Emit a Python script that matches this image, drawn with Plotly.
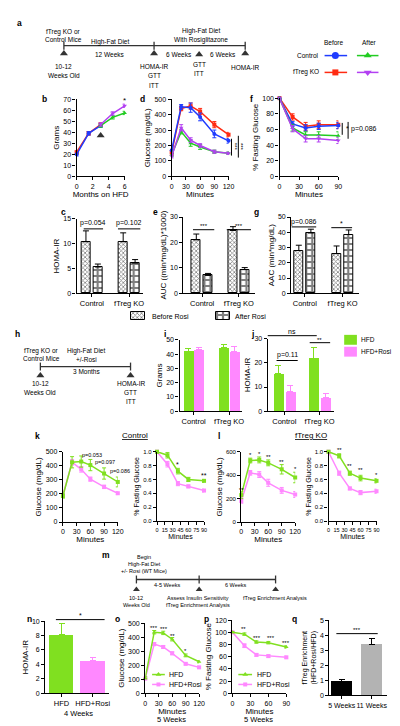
import plotly.graph_objects as go

W, H = 400, 726
FONT = "Liberation Sans, Arial, sans-serif"

BLUE = "#1f3cff"
RED = "#ff2b12"
GREEN = "#22cc22"
PURPLE = "#b340f2"
LIME = "#80e020"
PINK = "#ff88ff"
DARK = "#333333"

# ---------------- data ----------------
# b: body weight (grams) vs months on HFD
b_months_before = [0, 1.5, 3]
b_months_after = [3, 4.5, 6]
b_ctrl_before = [20, 39, 46]
b_ko_before = [22, 39, 47]
b_ctrl_after = [46, 53.5, 57.5]
b_ko_after = [47, 57, 64]
b_err = [1.5, 1.5, 1.5]

# d: GTT glucose (mg/dL)
gtt_minutes = [0, 20, 40, 60, 90, 120]
d_ctrl_before = [170, 450, 445, 385, 275, 230]
d_ctrl_before_err = [20, 15, 30, 25, 25, 15]
d_ko_before = [155, 440, 455, 420, 335, 270]
d_ko_before_err = [15, 15, 20, 20, 20, 15]
d_ctrl_after = [140, 290, 215, 190, 160, 150]
d_ctrl_after_err = [10, 15, 20, 15, 10, 8]
d_ko_after = [130, 315, 235, 200, 160, 150]
d_ko_after_err = [10, 20, 15, 12, 10, 8]

# f: ITT % fasting glucose
itt_minutes = [0, 20, 40, 60, 90]
f_ctrl_before = [100, 67, 62, 64, 65]
f_ctrl_before_err = [2, 3, 4, 4, 4]
f_ko_before = [100, 76, 64, 66, 66]
f_ko_before_err = [2, 4, 5, 5, 5]
f_ctrl_after = [100, 62, 53, 53, 52]
f_ctrl_after_err = [2, 4, 4, 4, 5]
f_ko_after = [100, 61, 48, 48, 46]
f_ko_after_err = [2, 4, 4, 4, 4]

groups = ["Control", "fTreg KO"]
# c: HOMA-IR before / after rosi
c_before = [10.4, 10.4]
c_before_err = [2.2, 1.8]
c_after = [5.3, 6.1]
c_after_err = [0.6, 0.7]
# e: AUC
e_before = [21, 24.7]
e_before_err = [2.3, 1.5]
e_after = [7, 9.3]
e_after_err = [0.8, 0.8]
# g: AAC
g_before = [28, 26]
g_before_err = [3.5, 5]
g_after = [39.5, 38.5]
g_after_err = [2.5, 3]

# i: grams HFD vs HFD+Rosi
i_hfd = [42, 44.5]
i_hfd_err = [2, 2.5]
i_rosi = [43, 41.5]
i_rosi_err = [1.5, 3.5]
# j: HOMA-IR
j_hfd = [15.5, 22]
j_hfd_err = [3.5, 4.5]
j_rosi = [8, 5.5]
j_rosi_err = [2.5, 1.8]

# k: control GTT / ITT
k_gtt_hfd = [185, 425, 430, 405, 345, 285]
k_gtt_hfd_err = [15, 40, 40, 40, 40, 35]
k_gtt_rosi = [190, 425, 375, 305, 250, 205]
k_gtt_rosi_err = [10, 20, 20, 15, 12, 10]
k_itt_hfd = [1.0, 0.95, 0.72, 0.60, 0.58]
k_itt_hfd_err = [0.02, 0.04, 0.04, 0.03, 0.02]
k_itt_rosi = [1.0, 0.82, 0.54, 0.50, 0.44]
k_itt_rosi_err = [0.02, 0.04, 0.03, 0.02, 0.02]

# l: fTreg KO GTT / ITT
l_gtt_hfd = [230, 525, 530, 505, 450, 380]
l_gtt_hfd_err = [30, 20, 25, 25, 40, 45]
l_gtt_rosi = [180, 420, 405, 335, 270, 235]
l_gtt_rosi_err = [20, 20, 25, 30, 25, 25]
l_itt_hfd = [1.0, 0.94, 0.69, 0.62, 0.58]
l_itt_hfd_err = [0.01, 0.03, 0.03, 0.04, 0.03]
l_itt_rosi = [1.0, 0.69, 0.47, 0.41, 0.43]
l_itt_rosi_err = [0.01, 0.03, 0.02, 0.03, 0.03]

# n: HOMA-IR 4 weeks
n_labels = ["HFD", "HFD+Rosi"]
n_values = [8.1, 4.5]
n_err = [1.5, 0.5]

# o: GTT 5 weeks
o_hfd = [110, 435, 430, 385, 270, 225]
o_hfd_err = [8, 12, 12, 12, 10, 8]
o_rosi = [105, 350, 330, 285, 210, 185]
o_rosi_err = [8, 10, 10, 10, 8, 8]

# p: ITT 5 weeks
p_hfd = [100, 97, 84, 83, 76]
p_hfd_err = [1, 2, 2, 2, 2]
p_rosi = [100, 78, 63, 61, 59]
p_rosi_err = [1, 3, 2, 2, 2]

# q: fTreg enrichment
q_labels = ["5 Weeks", "11 Weeks"]
q_values = [0.95, 3.4]
q_err = [0.1, 0.4]

# ---------------- helpers ----------------
fig = go.Figure()
layout = dict(width=W, height=H, margin=dict(l=0, r=0, t=0, b=0),
              paper_bgcolor="white", plot_bgcolor="rgba(0,0,0,0)", showlegend=False,
              font=dict(family=FONT, color="black", size=7))
annotations = []
shapes = []
P = {}
counter = [0]


def new_axes(name, box, xr, yr, xtitle=None, ytitle=None, xkw=None, ykw=None, tsize=8):
    counter[0] += 1
    i = counter[0]
    sfx = "" if i == 1 else str(i)
    x0, x1, y0, y1 = box

    def base():
        return dict(showline=True, linecolor="black", linewidth=1, ticks="outside",
                    ticklen=3, tickwidth=1, tickcolor="black", showgrid=False,
                    zeroline=False, fixedrange=True, tickangle=0,
                    tickfont=dict(size=7, color="black", family=FONT))
    xa = base()
    xa.update(domain=[x0 / W, x1 / W], range=xr, anchor="y" + sfx)
    ya = base()
    ya.update(domain=[1 - y1 / H, 1 - y0 / H], range=yr, anchor="x" + sfx, linewidth=1.3)
    if xtitle:
        xa["title"] = dict(text=xtitle, font=dict(size=tsize, color="black", family=FONT), standoff=1)
    if ytitle:
        ya["title"] = dict(text=ytitle, font=dict(size=tsize, color="black", family=FONT), standoff=2)
    if xkw:
        xa.update(xkw)
    if ykw:
        ya.update(ykw)
    layout["xaxis" + sfx] = xa
    layout["yaxis" + sfx] = ya
    P[name] = dict(x="x" + sfx, y="y" + sfx, box=box, xr=xr, yr=yr)


def d2p(name, x, y):
    p = P[name]
    x0, x1, y0, y1 = p["box"]
    xr, yr = p["xr"], p["yr"]
    px = x0 + (x - xr[0]) / (xr[1] - xr[0]) * (x1 - x0)
    py = y1 - (y - yr[0]) / (yr[1] - yr[0]) * (y1 - y0)
    return px, py


def T(px, py, text, size=7, xanchor="center", angle=0, color="black"):
    annotations.append(dict(x=px / W, y=1 - py / H, xref="paper", yref="paper", text=text,
                            showarrow=False, xanchor=xanchor, yanchor="middle",
                            textangle=angle, font=dict(size=size, color=color, family=FONT)))


def L(px0, py0, px1, py1, color="black", width=1):
    shapes.append(dict(type="line", xref="paper", yref="paper", x0=px0 / W, y0=1 - py0 / H,
                       x1=px1 / W, y1=1 - py1 / H, line=dict(color=color, width=width)))


def DT(name, x, y, text, size=7, xanchor="center"):
    px, py = d2p(name, x, y)
    T(px, py, text, size=size, xanchor=xanchor)


def bracket(name, xa, xb, y, text, size=7, dy=5):
    pa = d2p(name, xa, y)
    pb = d2p(name, xb, y)
    L(pa[0], pa[1], pb[0], pb[1], width=1)
    T((pa[0] + pb[0]) / 2, pa[1] - dy, text, size=size)


def line(name, xs, ys, err, color, symbol, msize=5, lw=1.5):
    p = P[name]
    fig.add_trace(go.Scatter(x=xs, y=ys, xaxis=p["x"], yaxis=p["y"], mode="lines+markers",
                             line=dict(color=color, width=lw),
                             marker=dict(symbol=symbol, size=msize, color=color),
                             error_y=dict(type="data", array=err, color=color, thickness=1, width=2),
                             cliponaxis=False, showlegend=False))


def bar(name, x, v, e, width, color, ecolor="black", pattern=None, outline=0):
    p = P[name]
    mk = dict(color=color, line=dict(color="black", width=outline))
    if pattern:
        mk["pattern"] = pattern
    fig.add_trace(go.Bar(x=[x], y=[v], width=width, xaxis=p["x"], yaxis=p["y"], marker=mk,
                         error_y=dict(type="data", array=[e], arrayminus=[0], symmetric=False,
                                      color=ecolor, thickness=1, width=3),
                         showlegend=False))


PAT_BEFORE = dict(shape="x", size=3, solidity=0.45, fgcolor="black", bgcolor="white")
PAT_AFTER = dict(shape="+", size=6, solidity=0.6, fgcolor="black", bgcolor="white")

# ---------------- panel b ----------------
new_axes("b", (68, 117, 88, 166), [0, 6], [0, 70], xtitle="Months on HFD", ytitle="Grams",
         xkw=dict(tickvals=[0, 2, 4, 6]), ykw=dict(dtick=10))
line("b", b_months_before, b_ko_before, b_err, RED, "square", 4)
line("b", b_months_before, b_ctrl_before, b_err, BLUE, "circle", 4)
line("b", b_months_after, b_ctrl_after, b_err, GREEN, "triangle-up", 4)
line("b", b_months_after, b_ko_after, b_err, PURPLE, "triangle-down", 4)
DT("b", 6, 69, "*", 8)

# ---------------- panel d ----------------
new_axes("d", (165, 223, 88, 166), [0, 120], [0, 500], xtitle="Minutes", ytitle="Glucose (mg/dL)",
         xkw=dict(dtick=30), ykw=dict(dtick=100))
line("d", gtt_minutes, d_ko_before, d_ko_before_err, RED, "square", 4)
line("d", gtt_minutes, d_ctrl_before, d_ctrl_before_err, BLUE, "circle", 4)
line("d", gtt_minutes, d_ctrl_after, d_ctrl_after_err, GREEN, "triangle-up", 4)
line("d", gtt_minutes, d_ko_after, d_ko_after_err, PURPLE, "triangle-down", 4)
L(226, 128, 226, 145)
L(233, 125, 233, 147)
T(229.5, 136, "***", 6, angle=90)
T(236.5, 136, "***", 6, angle=90)

# ---------------- panel f ----------------
new_axes("f", (275, 335, 87, 166), [0, 90], [0, 100], xtitle="Minutes", ytitle="% Fasting Glucose",
         xkw=dict(dtick=30), ykw=dict(dtick=20))
line("f", itt_minutes, f_ko_before, f_ko_before_err, RED, "square", 4)
line("f", itt_minutes, f_ctrl_before, f_ctrl_before_err, BLUE, "circle", 4)
line("f", itt_minutes, f_ctrl_after, f_ctrl_after_err, GREEN, "triangle-up", 4)
line("f", itt_minutes, f_ko_after, f_ko_after_err, PURPLE, "triangle-down", 4)
L(339, 112, 339, 124)
T(341, 118, "*", 7, xanchor="left")
L(345, 111, 345, 128)
T(346, 118, "p=0.086", 7, xanchor="left")

# ---------------- panels c, e, g ----------------
OFF, BW = 0.16, 0.25
tick_groups = dict(tickvals=[1, 2], ticktext=groups, tickfont=dict(size=7.5, color="black", family=FONT))
for name, box, xr, yr, dt, ytitle, bef, befe, aft, afte in [
    ("c", (68, 136, 209, 284), [0.59, 2.38], [0, 15], 5, "HOMA-IR", c_before, c_before_err, c_after, c_after_err),
    ("e", (177, 250, 207, 284), [0.49, 2.44], [0, 30], 10, "AUC ((min*mg/dL)*1000)", e_before, e_before_err, e_after, e_after_err),
    ("g", (287, 356, 207, 284), [0.64, 2.43], [0, 50], 10, "AAC (min*mg/dL)", g_before, g_before_err, g_after, g_after_err),
]:
    new_axes(name, box, xr, yr, ytitle=ytitle, xkw=tick_groups, ykw=dict(dtick=dt))
    for gi in range(2):
        bar(name, gi + 1 - OFF, bef[gi], befe[gi], BW, "white", pattern=PAT_BEFORE, outline=1)
        bar(name, gi + 1 + OFF, aft[gi], afte[gi], BW, "white", pattern=PAT_AFTER, outline=1)

bracket("c", 1 - 0.22, 1 + 0.3, 13, "p=0.054", 7, 6)
bracket("c", 2 - 0.3, 2 + 0.3, 13, "p=0.102", 7, 6)
bracket("e", 1 - 0.25, 1 + 0.33, 25, "***", 6, 4)
bracket("e", 2 - 0.33, 2 + 0.33, 25, "***", 6, 4)
bracket("g", 1 - 0.35, 1 + 0.3, 43.5, "p=0.086", 7, 5)
bracket("g", 2 - 0.3, 2 + 0.25, 43, "*", 7, 4)

# ---------------- panels i, j ----------------
BW2 = 0.28
new_axes("i", (173, 237, 331, 403), [0.6, 2.375], [0, 50], ytitle="Grams", xkw=tick_groups, ykw=dict(dtick=10))
for gi in range(2):
    bar("i", gi + 1 - 0.15, i_hfd[gi], i_hfd_err[gi], BW2, LIME, ecolor=LIME)
    bar("i", gi + 1 + 0.15, i_rosi[gi], i_rosi_err[gi], BW2, PINK, ecolor=PINK)
new_axes("j", (263, 331, 330, 403), [0.53, 2.42], [0, 30], ytitle="HOMA-IR", xkw=tick_groups, ykw=dict(dtick=10))
for gi in range(2):
    bar("j", gi + 1 - 0.17, j_hfd[gi], j_hfd_err[gi], BW2, LIME, ecolor=LIME)
    bar("j", gi + 1 + 0.17, j_rosi[gi], j_rosi_err[gi], BW2, PINK, ecolor=PINK)
bracket("j", 0.53, 1.92, 31.3, "ns", 7, 4)
bracket("j", 0.78, 1.38, 21, "p=0.11", 7, 6)
bracket("j", 1.72, 2.3, 28.4, "**", 6, 3)

# ---------------- panels k, l ----------------
new_axes("kg", (54, 110, 444, 515), [0, 120], [0, 500], xtitle="Minutes", ytitle="Glucose (mg/dL)",
         xkw=dict(dtick=30), ykw=dict(dtick=100))
line("kg", gtt_minutes, k_gtt_rosi, k_gtt_rosi_err, PINK, "square", 4)
line("kg", gtt_minutes, k_gtt_hfd, k_gtt_hfd_err, LIME, "square", 4)
DT("kg", 63, 479, "p=0.053", 5.5)
DT("kg", 92, 430, "p=0.097", 5.5)
DT("kg", 125, 366, "p=0.086", 5.5)

sm = dict(tickfont=dict(size=6, color="black", family=FONT))
tiny = dict(tickfont=dict(size=5.5, color="black", family=FONT))
new_axes("ki", (150, 198, 444, 514), [0, 90], [0, 1.0], xtitle="Minutes", ytitle="% Fasting Glucose",
         xkw=dict(dtick=15, **tiny), ykw=dict(dtick=0.2, tickformat=".1f", **sm), tsize=7)
line("ki", itt_minutes, k_itt_rosi, k_itt_rosi_err, PINK, "square", 4)
line("ki", itt_minutes, k_itt_hfd, k_itt_hfd_err, LIME, "square", 4)
DT("ki", 40, 0.82, "*", 7)
DT("ki", 90, 0.66, "**", 7)

new_axes("lg", (236, 291, 444, 515), [0, 120], [0, 600], xtitle="Minutes", ytitle="Glucose (mg/dL)",
         xkw=dict(dtick=30), ykw=dict(dtick=200, **sm))
line("lg", gtt_minutes, l_gtt_rosi, l_gtt_rosi_err, PINK, "square", 4)
line("lg", gtt_minutes, l_gtt_hfd, l_gtt_hfd_err, LIME, "square", 4)
for xm, ym, s in [(0, 275, "**"), (20, 575, "*"), (40, 580, "*"), (60, 555, "**"), (90, 515, "**"), (120, 450, "*")]:
    DT("lg", xm, ym, s, 6)

new_axes("li", (325, 374, 444, 514), [0, 90], [0, 1.0], xtitle="Minutes", ytitle="% Fasting Glucose",
         xkw=dict(dtick=15, **tiny), ykw=dict(dtick=0.2, tickformat=".1f", **sm), tsize=7)
line("li", itt_minutes, l_itt_rosi, l_itt_rosi_err, PINK, "square", 4)
line("li", itt_minutes, l_itt_hfd, l_itt_hfd_err, LIME, "square", 4)
for xm, ym, s in [(20, 1.02, "**"), (40, 0.8, "**"), (60, 0.73, "**"), (90, 0.67, "*")]:
    DT("li", xm, ym, s, 6)

T(128, 428, "<u>Control</u>", 8)
T(307, 428, "<u>fTreg KO</u>", 8)

# ---------------- panel n ----------------
new_axes("n", (36, 101, 615, 688), [0.48, 2.52], [0, 10], ytitle="HOMA-IR",
         xkw=dict(tickvals=[1, 2], ticktext=n_labels, tickfont=dict(size=7.5, color="black", family=FONT)),
         ykw=dict(dtick=2))
bar("n", 1, n_values[0], n_err[0], 0.78, LIME, ecolor=LIME)
bar("n", 2, n_values[1], n_err[1], 0.78, PINK, ecolor=PINK)
bracket("n", 0.82, 2.38, 10.2, "*", 7, 4)
T(70, 708, "4 Weeks", 7.5)

# ---------------- panel o ----------------
new_axes("o", (138, 193, 617, 688), [0, 120], [0, 500], xtitle="Minutes", ytitle="Glucose (mg/dL)",
         xkw=dict(dtick=30), ykw=dict(dtick=100))
line("o", gtt_minutes, o_rosi, o_rosi_err, PINK, "square", 4)
line("o", gtt_minutes, o_hfd, o_hfd_err, LIME, "triangle-up", 4)
for xm, ym, s in [(20, 465, "***"), (41, 458, "***"), (61, 408, "**"), (89, 303, "*")]:
    DT("o", xm, ym, s, 6)
T(165, 714, "5 Weeks", 7.5)

# ---------------- panel p ----------------
new_axes("p", (227, 282, 614, 688), [0, 90], [0, 120], xtitle="Minutes", ytitle="% Fasting Glucose",
         xkw=dict(dtick=30), ykw=dict(dtick=20))
line("p", itt_minutes, p_rosi, p_rosi_err, PINK, "square", 4)
line("p", itt_minutes, p_hfd, p_hfd_err, LIME, "triangle-up", 4)
for xm, ym, s in [(18, 105, "**"), (41, 90, "***"), (64, 90, "***"), (90, 82, "***")]:
    DT("p", xm, ym, s, 6)
T(254, 714, "5 Weeks", 7.5)

# ---------------- panel q ----------------
new_axes("q", (326, 385, 614, 690), [0.59, 2.52], [0, 5], ytitle="fTreg Enrichment<br>(HFD+Rosi/HFD)",
         xkw=dict(tickvals=[1, 2], ticktext=q_labels, tickfont=dict(size=7, color="black", family=FONT)),
         ykw=dict(dtick=1), tsize=7)
bar("q", 1, q_values[0], q_err[0], 0.69, "black")
bar("q", 2, q_values[1], q_err[1], 0.69, "#b3b3b3")
bracket("q", 0.82, 2.2, 4.1, "***", 6, 4)

# ---------------- overlay (pixel space) for diagrams & legends ----------------
layout["xaxis99"] = dict(domain=[0, 1], range=[0, W], visible=False, fixedrange=True, anchor="y99")
layout["yaxis99"] = dict(domain=[0, 1], range=[H, 0], visible=False, fixedrange=True, anchor="x99")


def pm(xs, ys, symbol, color, size, mode="markers", lw=1.5):
    fig.add_trace(go.Scatter(x=xs, y=ys, xaxis="x99", yaxis="y99", mode=mode,
                             marker=dict(symbol=symbol, color=color, size=size),
                             line=dict(color=color, width=lw), showlegend=False,
                             cliponaxis=False, hoverinfo="skip"))


def swatch(px0, px1, py0, py1, pattern):
    fig.add_trace(go.Bar(x=[(px0 + px1) / 2], y=[py1 - py0], base=[py0], width=px1 - px0,
                         xaxis="x99", yaxis="y99", showlegend=False, hoverinfo="skip",
                         marker=dict(color="white", pattern=pattern, line=dict(color="black", width=1))))


# panel a timeline
L(55, 34, 240, 34, DARK, 1.3)
for xx in (55, 147, 240):
    L(xx, 30, xx, 38, DARK, 1.3)
pm([55, 147, 193, 240], [42, 42, 43, 42], "triangle-up", DARK, 7)
T(55, 20, "fTreg KO or", 6.5)
T(55, 28, "Control Mice", 6.5)
T(102, 30, "High-Fat Diet", 6.5)
T(102, 43, "12 Weeks", 6.5)
T(195, 19, "High-Fat Diet", 6.5)
T(195, 28, "With Rosiglitazone", 6.5)
T(172, 43, "6 Weeks", 6.5)
T(217, 43, "6 Weeks", 6.5)
T(55, 55, "10-12", 6.5)
T(55, 64, "Weeks Old", 6.5)
T(147, 55, "HOMA-IR", 6.5)
T(147, 64, "GTT", 6.5)
T(147, 74, "ITT", 6.5)
T(193, 53, "GTT", 6.5)
T(193, 62, "ITT", 6.5)
T(240, 56, "HOMA-IR", 6.5)

# panel a legend
T(331, 31, "Before", 6.5)
T(367, 31, "After", 6.5)
T(317, 44, "Control", 6.5, xanchor="right")
T(317, 61, "fTreg KO", 6.5, xanchor="right")
pm([321, 344], [44, 44], "circle", BLUE, 1, mode="lines")
pm([332], [44], "circle", BLUE, 7)
pm([354, 376], [44, 44], "circle", GREEN, 1, mode="lines")
pm([365], [44], "triangle-up", GREEN, 7)
pm([321, 344], [61, 61], "circle", RED, 1, mode="lines")
pm([332], [61], "square", RED, 6)
pm([354, 376], [61, 61], "circle", PURPLE, 1, mode="lines")
pm([365], [61], "triangle-down", PURPLE, 7)

# c/e/g legend swatches
swatch(123, 138, 303, 311, PAT_BEFORE)
swatch(210, 224, 303, 311, PAT_AFTER)
T(143, 307, "Before Rosi", 7, xanchor="left")
T(228, 307, "After Rosi", 7, xanchor="left")

# h diagram
L(31, 358, 123, 358, DARK, 1.3)
for xx in (31, 123):
    L(xx, 354, xx, 362, DARK, 1.3)
pm([31, 123], [367, 367], "triangle-up", DARK, 7)
T(32, 342, "fTreg KO or", 6.5)
T(32, 350, "Control Mice", 6.5)
T(78, 342, "High-Fat Diet", 6.5)
T(78, 351, "+/-Rosi", 6.5)
T(78, 363, "3 Months", 6.5)
T(31, 375, "10-12", 6.5)
T(31, 384, "Weeks Old", 6.5)
T(123, 375, "HOMA-IR", 6.5)
T(123, 384, "GTT", 6.5)
T(123, 393, "ITT", 6.5)

# i/j legend
shapes.append(dict(type="rect", xref="paper", yref="paper", x0=341 / W, x1=354 / W,
                   y0=1 - 336 / H, y1=1 - 326 / H, line=dict(width=0), fillcolor=LIME))
shapes.append(dict(type="rect", xref="paper", yref="paper", x0=341 / W, x1=354 / W,
                   y0=1 - 348 / H, y1=1 - 338 / H, line=dict(width=0), fillcolor=PINK))
T(356, 331, "HFD", 6.5, xanchor="left")
T(356, 343, "HFD+Rosi", 6.5, xanchor="left")

# m diagram
L(129, 573, 271, 573, DARK, 1.3)
for xx in (129, 193, 271):
    L(xx, 569, xx, 577, DARK, 1.3)
pm([129, 193, 271], [583, 583, 583], "triangle-up", DARK, 6)
T(137, 550, "Begin", 5.5)
T(137, 557, "High-Fat Diet", 5.5)
T(137, 564, "+/- Rosi (WT Mice)", 5.5)
T(160, 579, "4-5 Weeks", 5.5)
T(231, 579, "6 Weeks", 5.5)
T(129, 592, "10-12", 5.5)
T(129, 599, "Weeks Old", 5.5)
T(192, 592, "Assess Insulin Sensitivity", 5.5)
T(192, 599, "fTreg Enrichment Analysis", 5.5)
T(270, 592, "fTreg Enrichment Analysis", 5.5)

# o / p inline legends
for x0, x1, tx in [(145, 158, 160), (233, 247, 250)]:
    pm([x0, x1], [669, 669], "circle", LIME, 1, mode="lines")
    pm([(x0 + x1) / 2], [669], "triangle-up", LIME, 5)
    pm([x0, x1], [679, 679], "circle", PINK, 1, mode="lines")
    pm([(x0 + x1) / 2], [679], "square", PINK, 4)
    T(tx, 669, "HFD", 7, xanchor="left")
    T(tx, 679, "HFD+Rosi", 7, xanchor="left")

# b arrow
pb = d2p("b", 3, 37)
pm([pb[0]], [pb[1]], "triangle-up", DARK, 7)

# panel letters
for lt, x, y in [("a", 10, 11), ("b", 35, 88), ("d", 135, 88), ("f", 246, 88), ("c", 55, 202),
                 ("e", 148, 202), ("g", 252, 202), ("h", 8, 325), ("i", 158, 325), ("j", 247, 325),
                 ("k", 28, 428), ("l", 213, 428), ("m", 98, 548), ("n", 20, 613), ("o", 110, 613),
                 ("p", 200, 613), ("q", 290, 613)]:
    T(x, y, "<b>" + lt + "</b>", 8.5)

layout["annotations"] = annotations
layout["shapes"] = shapes
layout["bargap"] = 0
fig.update_layout(**layout)
fig.write_html("out.html")
